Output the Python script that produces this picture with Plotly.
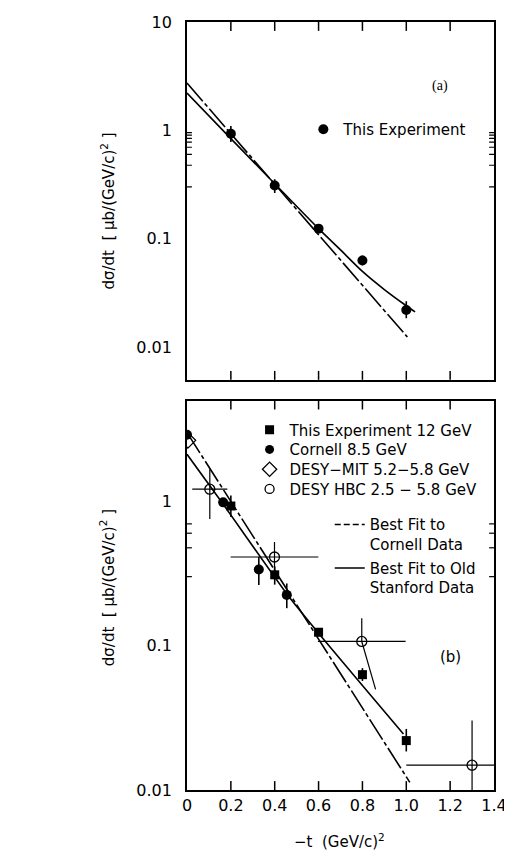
import math
import plotly.graph_objects as go

# ---------------- data ----------------
# This experiment, 12 GeV
t_exp = [0.2, 0.4, 0.6, 0.8, 1.0]
dsdt_exp = [0.93, 0.31, 0.124, 0.063, 0.022]
dsdt_exp_up = [0.17, 0.045, 0.008, 0.007, 0.0045]
dsdt_exp_dn = [0.15, 0.045, 0.008, 0.006, 0.0035]

# Cornell 8.5 GeV
t_cornell = [0.0, 0.165, 0.3275, 0.455]
dsdt_cornell = [2.9, 0.985, 0.337, 0.225]
dsdt_cornell_up = [0.0, 0.07, 0.075, 0.045]
dsdt_cornell_dn = [0.0, 0.07, 0.074, 0.043]

# DESY-MIT 5.2-5.8 GeV
t_desymit = [0.004]
dsdt_desymit = [2.65]

# DESY HBC 2.5-5.8 GeV
t_hbc = [0.104, 0.399, 0.797, 1.3]
dsdt_hbc = [1.215, 0.412, 0.107, 0.01485]
t_hbc_lo = [0.08, 0.2, 0.2, 0.3]
t_hbc_hi = [0.08, 0.2, 0.2, 0.1]
dsdt_hbc_up = [0.455, 0.111, 0.048, 0.0155]
dsdt_hbc_dn = [0.46, 0.104, 0.0, 0.00485]
# slanted lower error stroke of the 0.8 HBC point
t_hbc_slant = [0.797, 0.86]
dsdt_hbc_slant = [0.107, 0.0498]

# Fits, panel (a)
t_cornell_fit_a = [0.0, 1.005]
cornell_fit_a = [2.73, 0.0124]
t_stanford_fit_a = [0.0, 0.2, 0.4, 0.6, 0.7, 0.8, 0.9, 1.0, 1.04]
stanford_fit_a = [2.21, 0.84, 0.322, 0.124, 0.079, 0.050, 0.034, 0.0241, 0.0212]

# Fits, panel (b)
t_cornell_fit_b = [0.0, 1.016]
cornell_fit_b = [3.0, 0.0113]
t_stanford_fit_b = [0.0, 0.161, 0.459, 0.593, 0.8, 0.987]
stanford_fit_b = [2.12, 0.975, 0.2245, 0.1256, 0.053, 0.0244]

# tick labels
x_tickvals = [0, 0.2, 0.4, 0.6, 0.8, 1.0, 1.2, 1.4]
x_ticktext = ["0", "0.2", "0.4", "0.6", "0.8", "1.0", "1.2", "1.4"]
ya_tickvals = [0.01, 0.1, 1, 10]
ya_ticktext = ["0.01", "0.1", "1", "10"]
yb_tickvals = [0.01, 0.1, 1]
yb_ticktext = ["0.01", "0.1", "1"]
minor_vals = [m * 10.0 ** e for e in range(-3, 1) for m in range(2, 10)]

FONT = "DejaVu Sans"
BLACK = "black"
CORNELL_DASH = "24px,3px,4px,3px"
PADTXT = "\u00a0\u00a0"   # keeps the y labels clear of the axis

# ---------- page geometry (the page body adds an 8px margin) ----------
OFF = 8
W, H = 512 - OFF, 850 - OFF
PLOT_L, PLOT_R, PLOT_T, PLOT_B = 187, 501, 13, 790   # in page pixels
ML, MR, MT, MB = PLOT_L - OFF, W - (PLOT_R - OFF), PLOT_T - OFF, H - (PLOT_B - OFF)
PANEL_A = (13, 375)
PANEL_B = (396, 790)
PW = PLOT_R - PLOT_L

def px_x(p):
    return (p - PLOT_L) / (PLOT_R - PLOT_L)

def px_y(p):
    return (PLOT_B - p) / (PLOT_B - PLOT_T)

RANGE_A = [-2.301, 1.0]
RANGE_B = [-2.0, 0.699]

fig = go.Figure()

def err(up, dn):
    return dict(type="data", symmetric=False, array=up, arrayminus=dn,
                color=BLACK, thickness=1.6, width=0)

# ---------- panel (a) ----------
fig.add_trace(go.Scatter(x=t_cornell_fit_a, y=cornell_fit_a, mode="lines",
                         line=dict(color=BLACK, width=1.6, dash=CORNELL_DASH),
                         showlegend=False, xaxis="x", yaxis="y"))
fig.add_trace(go.Scatter(x=t_stanford_fit_a, y=stanford_fit_a, mode="lines",
                         line=dict(color=BLACK, width=1.6, shape="spline", smoothing=0.8),
                         showlegend=False, xaxis="x", yaxis="y"))
fig.add_trace(go.Scatter(x=t_exp, y=dsdt_exp, mode="markers",
                         marker=dict(symbol="circle", size=10, color=BLACK),
                         error_y=err(dsdt_exp_up, dsdt_exp_dn),
                         showlegend=False, xaxis="x", yaxis="y"))

# ---------- panel (b) ----------
fig.add_trace(go.Scatter(x=t_cornell_fit_b, y=cornell_fit_b, mode="lines",
                         line=dict(color=BLACK, width=1.6, dash=CORNELL_DASH),
                         showlegend=False, xaxis="x2", yaxis="y2"))
fig.add_trace(go.Scatter(x=t_stanford_fit_b, y=stanford_fit_b, mode="lines",
                         line=dict(color=BLACK, width=1.6, shape="spline", smoothing=0.6),
                         showlegend=False, xaxis="x2", yaxis="y2"))
fig.add_trace(go.Scatter(x=t_hbc_slant, y=dsdt_hbc_slant, mode="lines",
                         line=dict(color=BLACK, width=1.2),
                         showlegend=False, xaxis="x2", yaxis="y2"))
fig.add_trace(go.Scatter(x=t_hbc, y=dsdt_hbc, mode="markers",
                         marker=dict(symbol="circle-open", size=10, color=BLACK,
                                     line=dict(width=1.3, color=BLACK)),
                         error_y=dict(type="data", symmetric=False, array=dsdt_hbc_up,
                                      arrayminus=dsdt_hbc_dn, color=BLACK, thickness=1.2, width=0),
                         error_x=dict(type="data", symmetric=False, array=t_hbc_hi,
                                      arrayminus=t_hbc_lo, color=BLACK, thickness=1.2, width=0),
                         showlegend=False, xaxis="x2", yaxis="y2"))
fig.add_trace(go.Scatter(x=t_cornell, y=dsdt_cornell, mode="markers",
                         marker=dict(symbol="circle", size=10, color=BLACK),
                         error_y=err(dsdt_cornell_up, dsdt_cornell_dn),
                         showlegend=False, xaxis="x2", yaxis="y2"))
fig.add_trace(go.Scatter(x=t_desymit, y=dsdt_desymit, mode="markers",
                         marker=dict(symbol="diamond-open", size=12, color=BLACK,
                                     line=dict(width=1.3, color=BLACK)),
                         showlegend=False, xaxis="x2", yaxis="y2"))
fig.add_trace(go.Scatter(x=t_exp, y=dsdt_exp, mode="markers",
                         marker=dict(symbol="square", size=9, color=BLACK),
                         error_y=err(dsdt_exp_up, dsdt_exp_dn),
                         showlegend=False, xaxis="x2", yaxis="y2"))

LEG_FONT = dict(family=FONT, size=15, color=BLACK)

def legend_box(x_px, top_px, valign="middle"):
    return dict(x=px_x(x_px), y=px_y(top_px), xanchor="left", yanchor="top",
                bgcolor="rgba(0,0,0,0)", borderwidth=0, valign=valign, font=LEG_FONT)

# legend entries (one legend each so their spacing follows the reference)
legend_entries = [
    ("This Experiment", dict(symbol="circle", size=10, color=BLACK), "markers", "legend", 306, 105),
    ("This Experiment 12 GeV", dict(symbol="square", size=9, color=BLACK), "markers", "legend2", 251, 409),
    ("Cornell 8.5 GeV", dict(symbol="circle", size=9, color=BLACK), "markers", "legend3", 251, 429),
    ("DESY\u2212MIT 5.2\u22125.8 GeV", dict(symbol="diamond-open", size=11, color=BLACK,
                                             line=dict(width=1.3, color=BLACK)), "markers", "legend4", 251, 449),
    ("DESY HBC 2.5 \u2212 5.8 GeV", dict(symbol="circle-open", size=9, color=BLACK,
                                            line=dict(width=1.3, color=BLACK)), "markers", "legend5", 251, 469),
    ("Best Fit to<br>Cornell Data", dict(color=BLACK, width=1.6, dash="6px,3px"), "lines", "legend6", 333, 505),
    ("Best Fit to Old<br>Stanford Data", dict(color=BLACK, width=1.6), "lines", "legend7", 333, 549),
]
legend_layouts = {}
for name, style, mode, lid, xp, tp in legend_entries:
    kw = dict(marker=style) if mode == "markers" else dict(line=style)
    fig.add_trace(go.Scatter(x=[None], y=[None], mode=mode, name=name, legend=lid,
                             xaxis="x2", yaxis="y2", **kw))
    legend_layouts[lid] = legend_box(xp, tp, "top" if mode == "lines" else "middle")

# ---------- tick marks (inside, on all four sides), placed through the axes ----------
def y_ticks(xname, yname, vals, rng, length_px, width):
    f = length_px / PW
    out = []
    for v in vals:
        lv = math.log10(v)
        if not (rng[0] < lv < rng[1]):
            continue
        for x0, x1 in ((0, f), (1 - f, 1)):
            out.append(dict(type="line", xref=f"{xname} domain", yref=yname,
                            x0=x0, x1=x1, y0=lv, y1=lv,
                            line=dict(color=BLACK, width=width), layer="above"))
    return out

def x_ticks(xname, yname, vals, panel, length_px, width):
    f = length_px / (panel[1] - panel[0])
    out = []
    for v in vals:
        if not (0 < v < 1.4):
            continue
        for y0, y1 in ((0, f), (1 - f, 1)):
            out.append(dict(type="line", xref=xname, yref=f"{yname} domain",
                            x0=v, x1=v, y0=y0, y1=y1,
                            line=dict(color=BLACK, width=width), layer="above"))
    return out

tick_shapes = (
    y_ticks("x", "y", ya_tickvals, RANGE_A, 9, 1.5)
    + y_ticks("x", "y", minor_vals, RANGE_A, 5, 1.2)
    + y_ticks("x2", "y2", yb_tickvals, RANGE_B, 9, 1.5)
    + y_ticks("x2", "y2", minor_vals, RANGE_B, 5, 1.2)
    + x_ticks("x", "y", x_tickvals, PANEL_A, 9, 1.5)
    + x_ticks("x2", "y2", x_tickvals, PANEL_B, 9, 1.5)
)

TICKFONT = dict(family=FONT, size=16, color=BLACK)
xcommon = dict(range=[0, 1.4], tickmode="array", tickvals=x_tickvals, ticktext=x_ticktext,
               ticks="", showline=True, linewidth=1.5, linecolor=BLACK, mirror=True,
               showgrid=False, zeroline=False, tickfont=TICKFONT, ticklabeloverflow="allow")
ycommon = dict(type="log", tickmode="array", ticks="",
               showline=True, linewidth=1.5, linecolor=BLACK, mirror=True,
               showgrid=False, zeroline=False, tickfont=TICKFONT,
               ticklabeloverflow="allow")

ytitle = "d\u03c3/dt  [ \u03bcb/(GeV/c)<sup>2</sup> ]"

fig.update_layout(
    width=W, height=H,
    margin=dict(l=ML, r=MR, t=MT, b=MB),
    paper_bgcolor="white", plot_bgcolor="white",
    font=dict(family=FONT, color=BLACK),
    xaxis=dict(xcommon, domain=[0, 1], anchor="y", showticklabels=False),
    yaxis=dict(ycommon, domain=[px_y(PANEL_A[1]), 1.0], anchor="x",
               range=RANGE_A, tickvals=ya_tickvals,
               ticktext=[t + PADTXT for t in ya_ticktext]),
    xaxis2=dict(xcommon, domain=[0, 1], anchor="y2"),
    yaxis2=dict(ycommon, domain=[0, px_y(PANEL_B[0])], anchor="x2",
                range=RANGE_B, tickvals=yb_tickvals,
                ticktext=[t + PADTXT for t in yb_ticktext]),
    shapes=tick_shapes,
    annotations=[
        dict(text="(a)", x=px_x(446), y=px_y(78), xref="paper", yref="paper",
             xanchor="center", yanchor="middle", showarrow=False,
             font=dict(family="Liberation Serif", size=14, color=BLACK)),
        dict(text="(b)", x=px_x(456), y=px_y(655), xref="paper", yref="paper",
             xanchor="center", yanchor="middle", showarrow=False,
             font=dict(family=FONT, size=15, color=BLACK)),
        dict(text=ytitle, textangle=-90, x=px_x(106), y=px_y(204),
             xref="paper", yref="paper", xanchor="center", yanchor="middle",
             showarrow=False, font=dict(family=FONT, size=15, color=BLACK)),
        dict(text=ytitle, textangle=-90, x=px_x(106), y=px_y(585),
             xref="paper", yref="paper", xanchor="center", yanchor="middle",
             showarrow=False, font=dict(family=FONT, size=15, color=BLACK)),
        dict(text="\u2212t  (GeV/c)<sup>2</sup>", x=px_x(343), y=px_y(842),
             xref="paper", yref="paper", xanchor="center", yanchor="middle",
             showarrow=False, font=dict(family=FONT, size=15, color=BLACK)),
    ],
    **legend_layouts,
)

fig.write_html("out.html")
